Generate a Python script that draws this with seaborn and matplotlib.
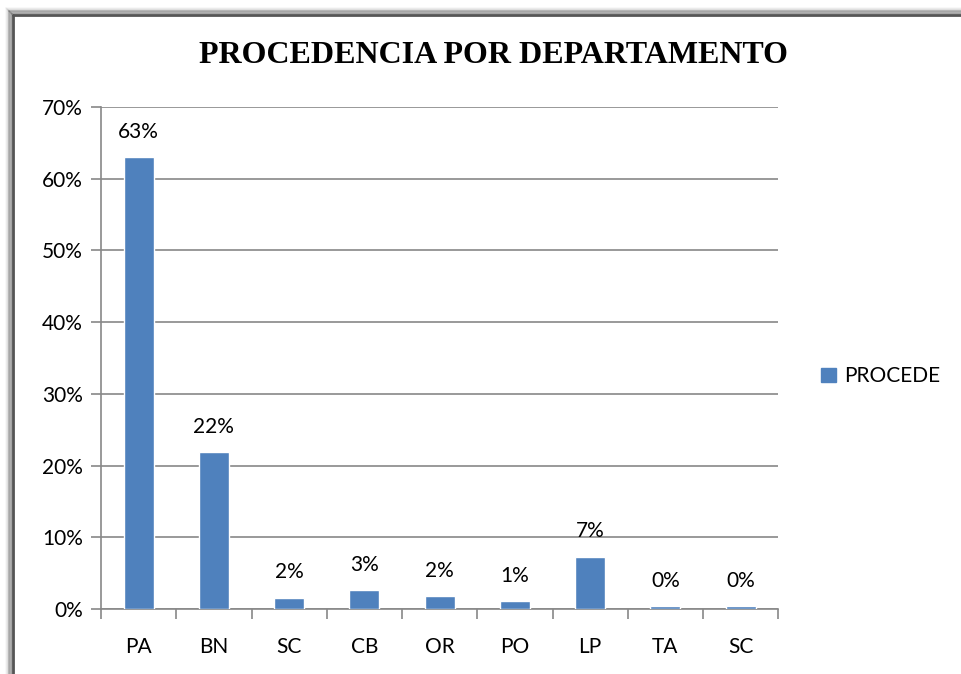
import numpy as np
import pandas as pd
import matplotlib
matplotlib.use("Agg")
import matplotlib.pyplot as plt
from matplotlib.lines import Line2D
import seaborn as sns

departamentos = ["PA", "BN", "SC", "CB", "OR", "PO", "LP", "TA", "SC"]
procede = [63.0, 21.9, 1.6, 2.6, 1.8, 1.1, 7.3, 0.4, 0.4]
yticks = [0, 10, 20, 30, 40, 50, 60, 70]

df = pd.DataFrame({"pos": range(len(departamentos)), "procede": procede})

sns.set_style("white")
plt.rcParams["font.family"] = ["Lato", "DejaVu Sans"]
plt.rcParams["text.color"] = "black"
plt.rcParams["xtick.color"] = "black"
plt.rcParams["ytick.color"] = "black"

fig = plt.figure(figsize=(9.62, 6.74), dpi=100)
ax = fig.add_axes([0.105, 0.0964, 0.704, 0.745])

bar_color = "#4F81BD"
sns.barplot(data=df, x="pos", y="procede", color=bar_color, width=0.4,
            saturation=1, ax=ax, zorder=3)

ax.set_ylim(0, 70)
ax.set_xlim(-0.5, len(departamentos) - 0.5)
ax.set_yticks(yticks)
ax.set_yticklabels([f"{t}%" for t in yticks], fontsize=15)
ax.set_xticks(range(len(departamentos)))
ax.set_xticklabels(departamentos, fontsize=15)
ax.set_xlabel("")
ax.set_ylabel("")

# gridlines
ax.yaxis.grid(True, color="#888888", linewidth=1.2, zorder=0)
ax.set_axisbelow(True)

for s in ["top", "right"]:
    ax.spines[s].set_visible(False)
for s in ["left", "bottom"]:
    ax.spines[s].set_color("#888888")
    ax.spines[s].set_linewidth(1.2)

# ticks: y outward, x ticks at category boundaries
ax.tick_params(axis="y", which="major", length=7, color="#888888", width=1.2,
               left=True, pad=6)
ax.tick_params(axis="x", which="major", length=0, pad=20)
ax.set_xticks(np.arange(-0.5, len(departamentos)), minor=True)
ax.tick_params(axis="x", which="minor", length=7, color="#888888", width=1.2,
               bottom=True)

ax.bar_label(ax.containers[0], labels=[f"{v:.0f}%" for v in procede],
             padding=11, fontsize=15)

title = fig.text(0.513, 0.918, "PROCEDENCIA POR DEPARTAMENTO", fontsize=23,
                 fontweight="bold", family="Liberation Serif",
                 ha="center", va="center")

handle = plt.Rectangle((0, 0), 1, 1, color=bar_color)
fig.legend([handle], ["PROCEDE"], loc="center left",
           bbox_to_anchor=(0.834, 0.442), frameon=False, fontsize=15,
           handlelength=0.7, handleheight=0.7, handletextpad=0.4)

# chart frame with soft shadow
for i, a in enumerate(np.linspace(0.03, 0.25, 8)):
    off = (8 - i) * 0.9
    fig.add_artist(Line2D([(13 - off) / 962, (13 - off) / 962],
                          [0, 1 - (15 - off) / 674], transform=fig.transFigure,
                          color="black", alpha=a, linewidth=1.2))
    fig.add_artist(Line2D([(13 - off) / 962, 1],
                          [1 - (15 - off) / 674, 1 - (15 - off) / 674],
                          transform=fig.transFigure, color="black", alpha=a,
                          linewidth=1.2))
fig.add_artist(Line2D([13 / 962, 13 / 962], [0, 1 - 15 / 674],
                      transform=fig.transFigure, color="#555555", linewidth=2))
fig.add_artist(Line2D([13 / 962, 1], [1 - 15 / 674, 1 - 15 / 674],
                      transform=fig.transFigure, color="#555555", linewidth=2))

fig.savefig("out.png", dpi=100)
